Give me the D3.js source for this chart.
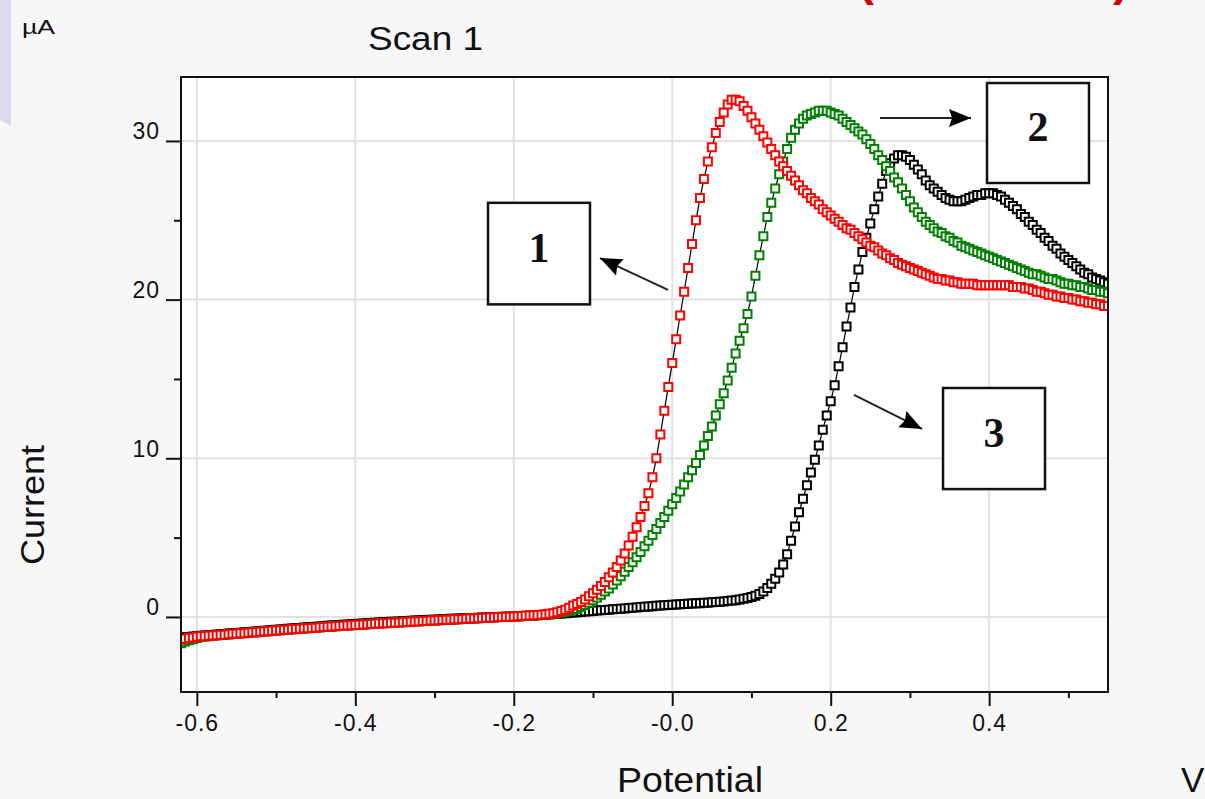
<!DOCTYPE html>
<html><head><meta charset="utf-8">
<script src="https://cdn.jsdelivr.net/npm/d3@7"></script>
<style>html,body{margin:0;padding:0;background:#f7f7f7;overflow:hidden;} svg{display:block;}</style>
</head><body>
<svg id="chart" width="1205" height="799"></svg>
<script>
// Potential grid (V): -0.620 .. 0.550 in 5 mV steps
const potentialStart = -0.62, potentialStep = 0.005, nPoints = 235;
const potentials = d3.range(nPoints).map(i => +(potentialStart + i * potentialStep).toFixed(3));

// Current (µA), series 1 (red)
const current1 = [
 -1.40,-1.37,-1.33,-1.30,-1.25,-1.22,-1.22,-1.18,-1.17,-1.16,
 -1.12,-1.12,-1.09,-1.06,-1.06,-1.02,-1.02,-0.99,-0.96,-0.96,
 -0.93,-0.91,-0.90,-0.87,-0.85,-0.84,-0.81,-0.80,-0.78,-0.76,
 -0.75,-0.72,-0.71,-0.69,-0.68,-0.65,-0.64,-0.62,-0.60,-0.59,
 -0.57,-0.56,-0.54,-0.52,-0.50,-0.49,-0.47,-0.46,-0.44,-0.43,
 -0.41,-0.40,-0.39,-0.37,-0.36,-0.35,-0.33,-0.32,-0.30,-0.29,
 -0.28,-0.26,-0.25,-0.23,-0.22,-0.21,-0.19,-0.18,-0.17,-0.15,
 -0.14,-0.13,-0.11,-0.10,-0.09,-0.08,-0.06,-0.05,-0.04,-0.03,
 -0.01,0.00,0.01,0.02,0.03,0.05,0.06,0.07,0.09,0.10,
 0.12,0.14,0.17,0.20,0.24,0.30,0.37,0.46,0.58,0.72,
 0.82,0.95,1.10,1.30,1.50,1.72,1.95,2.20,2.50,2.80,
 3.15,3.55,4.00,4.50,5.05,5.65,6.30,7.00,7.80,8.80,
 10.0,11.5,13.0,14.5,16.0,17.5,19.0,20.5,22.0,23.5,
 25.0,26.4,27.6,28.7,29.6,30.5,31.2,31.8,32.3,32.6,
 32.6,32.5,32.2,31.9,31.5,31.1,30.7,30.3,29.9,29.5,
 29.1,28.7,28.4,28.1,27.8,27.5,27.2,26.9,26.7,26.4,
 26.2,26.0,25.7,25.5,25.3,25.1,24.9,24.7,24.5,24.4,
 24.2,24.0,23.8,23.6,23.4,23.3,23.1,22.9,22.8,22.6,
 22.5,22.3,22.2,22.1,22.0,21.9,21.8,21.7,21.6,21.5,
 21.4,21.3,21.3,21.2,21.2,21.1,21.1,21.0,21.0,21.0,
 21.0,20.9,20.9,20.9,20.9,20.9,20.9,20.9,20.9,20.9,
 20.8,20.8,20.8,20.7,20.7,20.6,20.5,20.5,20.4,20.3,
 20.3,20.2,20.2,20.1,20.1,20.0,20.0,19.9,19.9,19.8,
 19.8,19.7,19.7,19.6,19.6
];
// Current (µA), series 2 (green)
const current2 = [
 -1.65,-1.55,-1.47,-1.40,-1.32,-1.27,-1.24,-1.21,-1.19,-1.17,
 -1.14,-1.12,-1.10,-1.08,-1.06,-1.04,-1.01,-1.00,-0.98,-0.96,
 -0.94,-0.92,-0.90,-0.88,-0.86,-0.84,-0.82,-0.80,-0.78,-0.77,
 -0.75,-0.73,-0.71,-0.70,-0.68,-0.66,-0.64,-0.62,-0.61,-0.59,
 -0.57,-0.56,-0.54,-0.52,-0.51,-0.49,-0.47,-0.46,-0.44,-0.43,
 -0.41,-0.40,-0.38,-0.37,-0.35,-0.34,-0.33,-0.31,-0.30,-0.29,
 -0.27,-0.26,-0.25,-0.23,-0.22,-0.21,-0.20,-0.18,-0.17,-0.16,
 -0.15,-0.13,-0.12,-0.11,-0.10,-0.08,-0.07,-0.06,-0.05,-0.04,
 -0.02,-0.01,0.00,0.01,0.02,0.04,0.05,0.06,0.07,0.09,
 0.10,0.12,0.14,0.17,0.20,0.24,0.28,0.33,0.39,0.45,
 0.50,0.62,0.75,0.90,1.05,1.22,1.40,1.60,1.80,2.05,
 2.30,2.57,2.85,3.15,3.45,3.77,4.10,4.45,4.80,5.17,
 5.55,5.92,6.30,6.70,7.10,7.50,7.90,8.35,8.80,9.25,
 9.70,10.2,10.8,11.4,12.0,12.7,13.4,14.1,14.9,15.7,
 16.6,17.4,18.2,19.1,20.2,21.5,22.8,24.0,25.2,26.1,
 27.0,27.9,28.7,29.5,30.2,30.7,31.1,31.4,31.6,31.7,
 31.8,31.9,31.9,31.9,31.8,31.7,31.6,31.4,31.2,31.0,
 30.8,30.6,30.4,30.1,29.8,29.5,29.1,28.8,28.4,28.1,
 27.7,27.4,27.0,26.6,26.2,25.8,25.5,25.2,24.9,24.7,
 24.5,24.3,24.2,24.0,23.9,23.7,23.6,23.4,23.3,23.2,
 23.1,23.0,22.9,22.8,22.7,22.6,22.5,22.4,22.3,22.2,
 22.1,22.0,21.9,21.8,21.7,21.6,21.6,21.5,21.4,21.3,
 21.3,21.2,21.1,21.0,21.0,20.9,20.9,20.8,20.8,20.7,
 20.6,20.6,20.5,20.5,20.4
];
// Current (µA), series 3 (black)
const current3 = [
 -1.30,-1.28,-1.26,-1.24,-1.21,-1.19,-1.17,-1.15,-1.13,-1.11,
 -1.09,-1.07,-1.05,-1.03,-1.01,-0.99,-0.97,-0.95,-0.93,-0.91,
 -0.89,-0.87,-0.85,-0.83,-0.81,-0.79,-0.77,-0.75,-0.73,-0.71,
 -0.69,-0.67,-0.65,-0.63,-0.61,-0.60,-0.58,-0.56,-0.54,-0.53,
 -0.51,-0.49,-0.48,-0.46,-0.44,-0.43,-0.41,-0.40,-0.38,-0.37,
 -0.35,-0.34,-0.32,-0.31,-0.30,-0.28,-0.27,-0.26,-0.24,-0.23,
 -0.22,-0.21,-0.19,-0.18,-0.17,-0.16,-0.14,-0.13,-0.12,-0.11,
 -0.10,-0.09,-0.08,-0.07,-0.06,-0.05,-0.04,-0.03,-0.02,-0.01,
 0.00,0.01,0.02,0.03,0.04,0.05,0.06,0.07,0.08,0.09,
 0.10,0.12,0.14,0.16,0.18,0.20,0.22,0.24,0.26,0.28,
 0.30,0.32,0.34,0.36,0.38,0.40,0.42,0.44,0.46,0.48,
 0.50,0.52,0.54,0.56,0.58,0.60,0.62,0.64,0.66,0.68,
 0.70,0.72,0.73,0.75,0.77,0.78,0.80,0.81,0.83,0.84,
 0.86,0.87,0.89,0.90,0.92,0.94,0.96,0.98,1.00,1.03,
 1.06,1.10,1.14,1.19,1.25,1.33,1.44,1.60,1.82,2.10,
 2.40,2.80,3.30,3.95,4.80,5.70,6.60,7.45,8.30,9.10,
 9.90,10.8,11.8,12.7,13.6,14.6,15.8,17.0,18.3,19.5,
 20.8,21.9,23.0,23.9,24.8,25.7,26.5,27.3,28.1,28.6,
 28.9,29.1,29.1,29.0,28.8,28.5,28.2,27.9,27.5,27.2,
 27.0,26.8,26.6,26.4,26.3,26.2,26.2,26.2,26.3,26.4,
 26.5,26.6,26.6,26.7,26.7,26.7,26.6,26.5,26.3,26.1,
 25.9,25.7,25.4,25.2,24.9,24.7,24.4,24.2,23.9,23.7,
 23.4,23.2,22.9,22.7,22.5,22.3,22.1,21.9,21.7,21.6,
 21.4,21.3,21.2,21.1,21.0
];

const seriesLabels = ["1", "2", "3"];
const seriesColors = ["#ff0000", "#008000", "#000000"];
const xTicks = [-0.6, -0.4, -0.2, 0.0, 0.2, 0.4];
const xTickLabels = ["-0.6", "-0.4", "-0.2", "-0.0", "0.2", "0.4"];
const xMinorTicks = [-0.5, -0.3, -0.1, 0.1, 0.3, 0.5];
const yTicks = [0, 10, 20, 30];
const yTickLabels = ["0", "10", "20", "30"];
const yMinorTicks = [5, 15, 25];

// annotation boxes (data units) and arrows
const boxes = [
  {label: "1", v0: -0.2325, v1: -0.1038, i0: 26.1, i1: 19.7},
  {label: "2", v0: 0.3973, v1: 0.526, i0: 33.65, i1: 27.35},
  {label: "3", v0: 0.3418, v1: 0.4705, i0: 14.43, i1: 8.06}
];
const arrows = [
  {v0: -0.0053, i0: 20.61, v1: -0.0912, i1: 22.62},
  {v0: 0.2622, i0: 31.45, v1: 0.3771, i1: 31.45},
  {v0: 0.2294, i0: 13.99, v1: 0.3153, i1: 11.85}
];

(function draw() {
const svg = d3.select("#chart");
const W = 1205, H = 799;
const pL = 181, pR = 1108, pT = 77, pB = 692;

const x = d3.scaleLinear().domain([-0.62, 0.55]).range([pL, pR]);
const y = d3.scaleLinear().domain([-4.73, 34.03]).range([pB, pT]);

svg.append("rect").attr("width", W).attr("height", H).attr("fill", "#f7f7f7");
// lavender strip at top-left
svg.append("path").attr("d", "M0,0 L11,0 L11,126 L0,120 Z").attr("fill", "#dcd9ef");

const defs = svg.append("defs");
defs.append("clipPath").attr("id", "plotclip").append("rect")
  .attr("x", pL).attr("y", pT).attr("width", pR - pL).attr("height", pB - pT);
defs.append("marker").attr("id", "arrowhead")
  .attr("markerUnits", "userSpaceOnUse").attr("markerWidth", 24).attr("markerHeight", 20)
  .attr("refX", 22).attr("refY", 10).attr("orient", "auto")
  .append("path").attr("d", "M0,1 L22,10 L0,19 L3,10 Z").attr("fill", "#000");

// plot background
svg.append("rect").attr("x", pL).attr("y", pT).attr("width", pR - pL).attr("height", pB - pT)
  .attr("fill", "#ffffff");

// grid
const grid = svg.append("g").attr("stroke", "#e2e2e2").attr("stroke-width", 2);
grid.selectAll("line.v").data(xTicks).join("line").attr("class", "v")
  .attr("x1", d => x(d)).attr("x2", d => x(d)).attr("y1", pT).attr("y2", pB);
grid.selectAll("line.h").data(yTicks).join("line").attr("class", "h")
  .attr("y1", d => y(d)).attr("y2", d => y(d)).attr("x1", pL).attr("x2", pR);

// series
const seriesData = [current1, current2, current3].map((vals, k) => ({
  label: seriesLabels[k], color: seriesColors[k],
  pts: potentials.map((p, i) => ({p, c: vals[i]}))
}));
const drawOrder = [2, 1, 0];
const plot = svg.append("g").attr("clip-path", "url(#plotclip)");
const line = d3.line().x(d => x(d.p)).y(d => y(d.c));
const sym = d3.symbol().type(d3.symbolSquare).size(64);
drawOrder.forEach(k => {
  const s = seriesData[k];
  const g = plot.append("g");
  g.append("path").attr("d", line(s.pts)).attr("fill", "none").attr("stroke", "#000").attr("stroke-width", 1.2);
  g.selectAll("path.m").data(s.pts).join("path").attr("class", "m")
    .attr("d", sym).attr("transform", d => `translate(${x(d.p)},${y(d.c)})`)
    .attr("fill", "#fff").attr("stroke", s.color).attr("stroke-width", 2);
});

// frame
svg.append("rect").attr("x", pL).attr("y", pT).attr("width", pR - pL).attr("height", pB - pT)
  .attr("fill", "none").attr("stroke", "#111").attr("stroke-width", 2);

// axes
const fontFam = "'Liberation Sans', Arial, sans-serif";
const xAxis = svg.append("g").attr("transform", `translate(0,${pB})`)
  .call(d3.axisBottom(x).tickValues(xTicks).tickFormat((d, i) => xTickLabels[i]).tickSize(14).tickPadding(9));
const xMinor = svg.append("g").attr("transform", `translate(0,${pB})`)
  .call(d3.axisBottom(x).tickValues(xMinorTicks).tickFormat("").tickSize(6));
const yAxis = svg.append("g").attr("transform", `translate(${pL},0)`)
  .call(d3.axisLeft(y).tickValues(yTicks).tickFormat((d, i) => yTickLabels[i]).tickSize(15));
const yMinor = svg.append("g").attr("transform", `translate(${pL},0)`)
  .call(d3.axisLeft(y).tickValues(yMinorTicks).tickFormat("").tickSize(7));
[xAxis, xMinor, yAxis, yMinor].forEach(a => {
  a.select(".domain").remove();
  a.selectAll(".tick line").attr("stroke", "#111").attr("stroke-width", 2);
  a.selectAll("text").attr("font-family", fontFam).attr("font-size", 23).attr("fill", "#111")
    .attr("letter-spacing", 1);
});
yAxis.selectAll("text").attr("x", -21).attr("y", -2).attr("dy", 0);

// titles
svg.append("text").attr("x", 22).attr("y", 34).attr("font-family", fontFam).attr("font-size", 21)
  .attr("textLength", 33).attr("lengthAdjust", "spacingAndGlyphs").attr("fill", "#111").text("µA");
svg.append("text").attr("x", 368).attr("y", 50).attr("font-family", fontFam).attr("font-size", 34)
  .attr("textLength", 115).attr("lengthAdjust", "spacingAndGlyphs").attr("fill", "#111").text("Scan 1");
svg.append("text").attr("transform", "translate(44,565) rotate(-90)").attr("font-family", fontFam)
  .attr("font-size", 34).attr("textLength", 120).attr("lengthAdjust", "spacingAndGlyphs")
  .attr("fill", "#111").text("Current");
svg.append("text").attr("x", 617).attr("y", 792).attr("font-family", fontFam).attr("font-size", 35)
  .attr("textLength", 146).attr("lengthAdjust", "spacingAndGlyphs").attr("fill", "#111").text("Potential");
svg.append("text").attr("x", 1181).attr("y", 792).attr("font-family", fontFam).attr("font-size", 35)
  .attr("fill", "#111").text("V");
// red parentheses cut at the top edge
svg.append("text").attr("x", 858).attr("y", -5).attr("font-family", fontFam).attr("font-weight", "bold")
  .attr("font-size", 48).attr("fill", "#d40000").text("(");
svg.append("text").attr("x", 1113).attr("y", -5).attr("font-family", fontFam).attr("font-weight", "bold")
  .attr("font-size", 48).attr("fill", "#d40000").text(")");

// annotation boxes
const ann = svg.append("g");
boxes.forEach(b => {
  const bx = x(b.v0), by = y(b.i0), bw = x(b.v1) - x(b.v0), bh = y(b.i1) - y(b.i0);
  ann.append("rect").attr("x", bx).attr("y", by).attr("width", bw).attr("height", bh)
    .attr("fill", "#fff").attr("stroke", "#111").attr("stroke-width", 2.5);
  ann.append("text").attr("x", bx + bw / 2).attr("y", by + bh / 2 + 8).attr("text-anchor", "middle")
    .attr("font-family", "'Liberation Serif', 'Times New Roman', serif").attr("font-weight", "bold")
    .attr("font-size", 42).attr("fill", "#111").text(b.label);
});
arrows.forEach(a => {
  ann.append("line").attr("x1", x(a.v0)).attr("y1", y(a.i0)).attr("x2", x(a.v1)).attr("y2", y(a.i1))
    .attr("stroke", "#222").attr("stroke-width", 2).attr("marker-end", "url(#arrowhead)");
});
})();
</script>
</body></html>
